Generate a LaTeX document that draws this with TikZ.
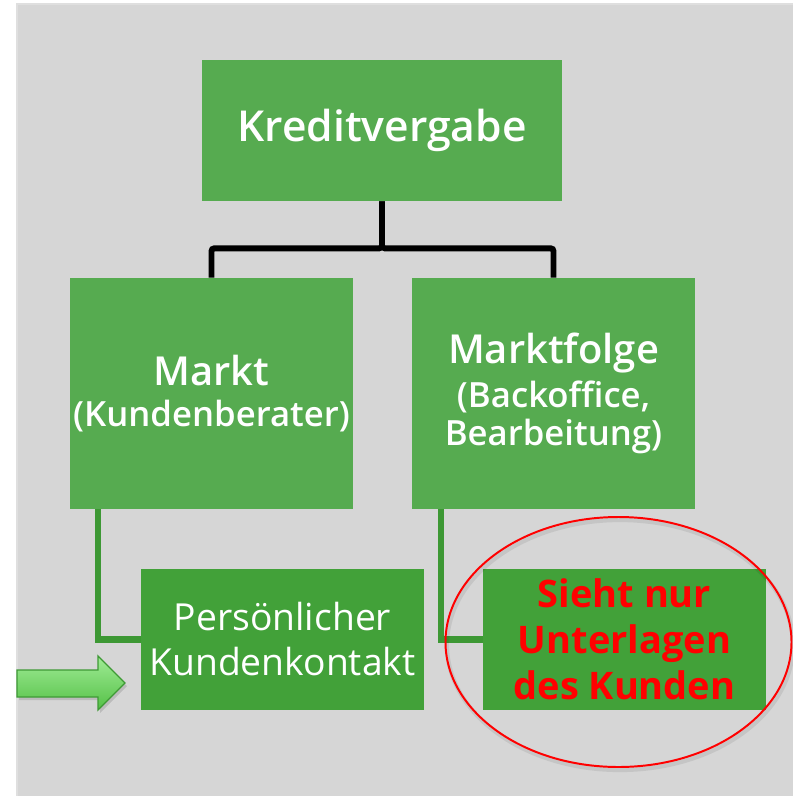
\documentclass[tikz,border=0pt]{standalone}
\usepackage{fontspec}
\setmainfont{Open Sans}
\IfFontExistsTF{Open Sans SemiBold}{\newfontfamily\semifont{Open Sans SemiBold}}{%
  \IfFontExistsTF{Open Sans Semibold}{\newfontfamily\semifont{Open Sans Semibold}}{%
    \newfontfamily\semifont{Open Sans}[FakeBold=1.2]}}
\usepackage{tikz}
\usetikzlibrary{arrows.meta,positioning,calc}
\definecolor{clrPanel}{RGB}{214,214,214}
\definecolor{clrTop}{RGB}{86,171,80}
\definecolor{clrLow}{RGB}{66,161,57}
\definecolor{clrLine}{RGB}{61,152,52}
\definecolor{clrArrowA}{RGB}{160,236,150}
\definecolor{clrArrowB}{RGB}{84,192,70}
\definecolor{clrArrowD}{RGB}{62,154,53}
\tikzset{
  unit/.style={rectangle,inner sep=0pt,text=white,align=center},
  head/.style={unit,fill=clrTop,minimum width=9cm,minimum height=3.525cm,
    font=\semifont\fontsize{30.3}{36}\selectfont},
  branch/.style={unit,fill=clrTop,minimum width=7.075cm,minimum height=5.775cm,
    font=\semifont\fontsize{24.7}{29}\selectfont},
  leaf/.style={unit,fill=clrLow,minimum width=7.075cm,minimum height=3.525cm,
    font=\fontsize{26.5}{32}\selectfont},
  tree/.style={line width=4.2pt,black,rounded corners=2pt},
  twig/.style={line width=4.3pt,clrLine}
}

\begin{document}
\begin{tikzpicture}[
    x=0.025cm,y=-0.025cm,
    bigline/.style={font=\semifont\fontsize{28.4}{30}\selectfont},
    note/.style={text=red,font=\bfseries\fontsize{27}{32.7}\selectfont}
]
\useasboundingbox (0,0) rectangle (793,796);

% Grey panel behind the chart.
\fill[gray!25] (16,3) rectangle (793,796);
\fill[clrPanel] (18,5) rectangle (793,796);

% Organisation tree.
\node[head] (credit) at (382,130.5) {Kreditvergabe};

\node[branch] (markt) at (211.5,393.5)
  {{\semifont\fontsize{28.4}{30}\selectfont Markt}\\[0pt]
   (Kundenberater)};
\node[branch] (folge) at (553.5,393.5)
  {{\semifont\fontsize{28.4}{30}\selectfont Marktfolge}\\[2pt]
   (Backoffice,\\[-2pt]
   Bearbeitung)};

\draw[tree] (credit.south) -- ++(0,47) -| (markt.north);
\draw[tree] (credit.south) -- ++(0,47) -| (folge.north);

% What each side gets to see.
\node[leaf] (contact) at (282.5,639.5) {Persönlicher\\Kundenkontakt};
\node[leaf,note] (papers) at (624.5,639.5) {Sieht nur\\Unterlagen\\des Kunden};

\draw[twig] ($(markt.south west)+(28,0)$) |- (contact.west);
\draw[twig] ($(folge.south west)+(29,0)$) |- (papers.west);

% Pointer to the customer contact.
\fill[black,opacity=0.12] (19,673) -- (100,673) -- (100,659) -- (127,686)
  -- (100,713) -- (100,700) -- (19,700) -- cycle;
\shade[top color=clrArrowA,bottom color=clrArrowB,draw=clrArrowD,line width=0.9pt]
  (17,670) -- (98,670) -- (98,656) -- (125,683) -- (98,710) -- (98,697)
  -- (17,697) -- cycle;

% Highlight round the back-office view.
\draw[black,opacity=0.08,line width=3pt] (620,645) ellipse [x radius=173,y radius=125];
\draw[red,line width=1.4pt] (618.5,642) ellipse [x radius=173,y radius=125];
\end{tikzpicture}
\end{document}
